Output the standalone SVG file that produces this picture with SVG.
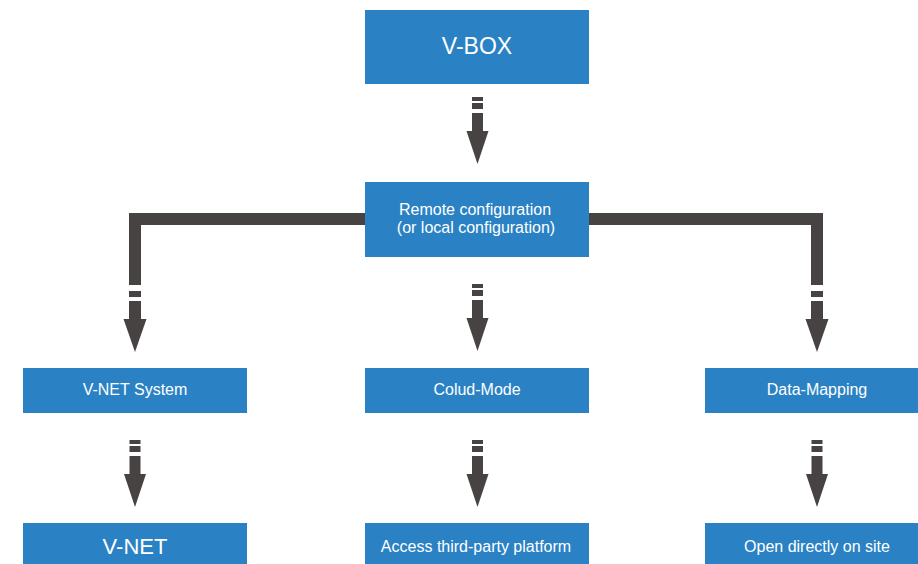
<svg xmlns="http://www.w3.org/2000/svg" xmlns:xlink="http://www.w3.org/1999/xlink" width="918" height="564" viewBox="0 0 918 564">
<style>
.box{fill:#2a82c4}
.t{fill:#ffffff;font-family:"Liberation Sans",Arial,sans-serif;text-anchor:middle}
.s{font-size:16px}
.l{font-size:22px}
.xl{font-size:23px}
.ar{fill:#474342}
</style>
<defs>
<g id="arrow" class="ar">
<rect x="-5.5" y="0" width="11" height="4"/>
<rect x="-5.5" y="6" width="11" height="6"/>
<rect x="-5.5" y="16" width="11" height="18"/>
<polygon points="-11,34 11,34 0,67"/>
</g>
<g id="arrowTail" class="ar">
<rect x="-6" y="6" width="12" height="6"/>
<rect x="-6" y="16" width="12" height="18"/>
<polygon points="-11.5,34 11.5,34 0,67"/>
</g>
</defs>
<rect width="918" height="564" fill="#ffffff"/>
<g id="connectors">
<path class="ar" d="M129,213 H365 V225 H141 V285 H129 Z"/>
<path class="ar" d="M589,213 H823 V285 H811 V225 H589 Z"/>
<use xlink:href="#arrow" x="477.5" y="97"/>
<use xlink:href="#arrow" x="477.5" y="284"/>
<use xlink:href="#arrowTail" x="135" y="285"/>
<use xlink:href="#arrowTail" x="817" y="285"/>
<use xlink:href="#arrow" x="135" y="440"/>
<use xlink:href="#arrow" x="477.5" y="440"/>
<use xlink:href="#arrow" x="817" y="440"/>
</g>
<g id="vbox"><rect class="box" x="365" y="10" width="224" height="74"/><text class="t xl" x="477" y="54">V-BOX</text></g>
<g id="remote"><rect class="box" x="365" y="182" width="224" height="75"/><text class="t s" x="475" y="215">Remote configuration</text><text class="t s" x="476" y="233">(or local configuration)</text></g>
<g id="vnetsystem"><rect class="box" x="23" y="368" width="224" height="45"/><text class="t s" x="135" y="395">V-NET System</text></g>
<g id="coludmode"><rect class="box" x="365" y="368" width="224" height="45"/><text class="t s" x="477" y="395">Colud-Mode</text></g>
<g id="datamapping"><rect class="box" x="705" y="368" width="224" height="45"/><text class="t s" x="817" y="395">Data-Mapping</text></g>
<g id="vnet"><rect class="box" x="23" y="523" width="224" height="45"/><text class="t l" x="135" y="554">V-NET</text></g>
<g id="access"><rect class="box" x="365" y="523" width="224" height="45"/><text class="t s" x="476" y="552">Access third-party platform</text></g>
<g id="opensite"><rect class="box" x="705" y="523" width="224" height="45"/><text class="t s" x="817" y="552">Open directly on site</text></g>
</svg>
